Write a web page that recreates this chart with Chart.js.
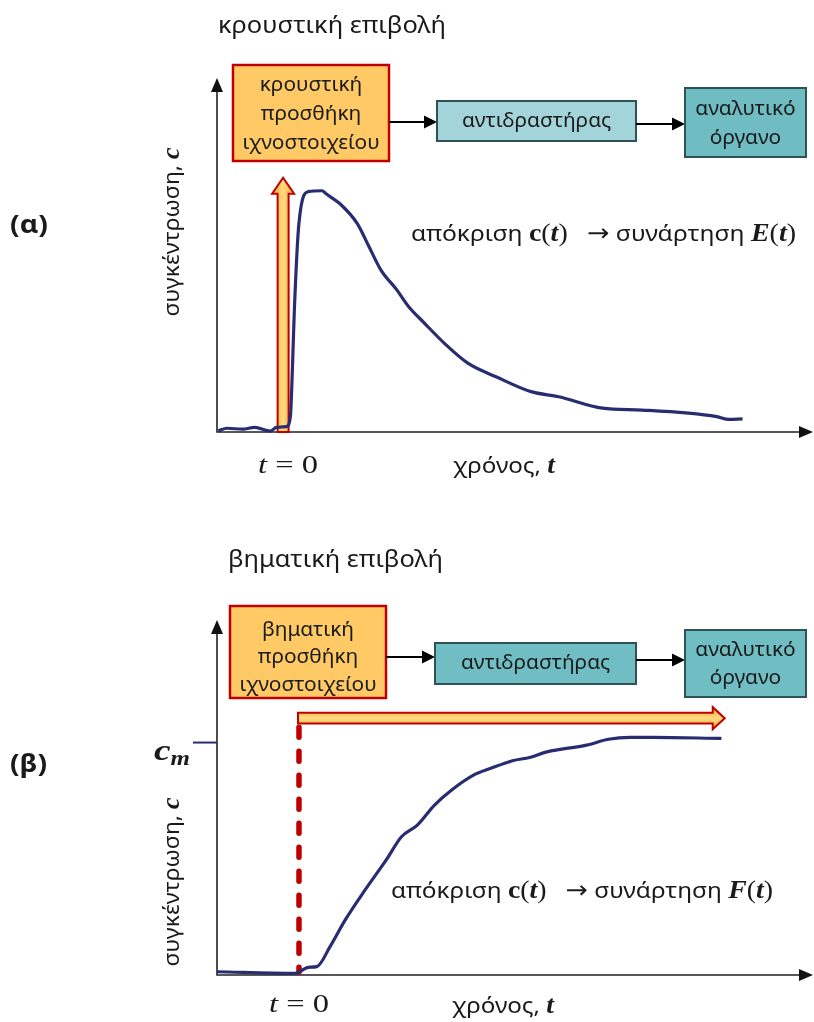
<!DOCTYPE html>
<html>
<head>
<meta charset="utf-8">
<script src="https://cdn.jsdelivr.net/npm/chart.js@4.4.1/dist/chart.umd.min.js"></script>
<style>
  body { margin: 0; background: #fff; }
  #wrap { position: relative; width: 814px; height: 1022px; }
  canvas { position: absolute; left: 0; }
  #chartA { top: 0; }
  #chartB { top: 500px; }
</style>
</head>
<body>
<div id="wrap">
  <canvas id="chartA" width="814" height="500"></canvas>
  <canvas id="chartB" width="814" height="522"></canvas>
</div>
<script>
// ---------------------------
// DATA (time t, concentration c, arbitrary units)
// ---------------------------
// (a) impulse input -> response c(t)
const impulseT = [-0.98, -0.85, -0.61, -0.43, -0.19, -0.10, 0.05, 0.11, 0.14, 0.17, 0.24, 0.38, 0.59, 0.64, 0.88, 1.12, 1.30, 1.48, 1.72, 1.90, 2.14, 2.44, 2.80, 3.22, 3.75, 4.17, 4.83, 5.43, 6.56, 6.74, 6.95];
const impulseC = [0.005, 0.016, 0.012, 0.02, 0.004, 0.02, 0.023, 0.066, 0.266, 0.523, 0.896, 1.03, 1.034, 1.023, 0.973, 0.894, 0.794, 0.694, 0.609, 0.537, 0.466, 0.38, 0.294, 0.237, 0.173, 0.151, 0.102, 0.094, 0.066, 0.054, 0.056];
const impulseTop = 1.09;      // tip of the impulse arrow

// (b) step input -> response c(t)
const stepT = [-1.24, -0.06, 0.14, 0.27, 0.47, 0.70, 1.00, 1.32, 1.55, 1.79, 2.05, 2.31, 2.64, 2.90, 3.23, 3.49, 3.75, 4.35, 4.68, 5.01, 5.34, 6.39];
const stepC = [0.014, 0.007, 0.033, 0.036, 0.122, 0.237, 0.366, 0.495, 0.595, 0.645, 0.731, 0.796, 0.860, 0.889, 0.922, 0.936, 0.960, 0.989, 1.014, 1.022, 1.022, 1.018];
const stepLevel = 1.105;      // level of the step-input arrow
const stepEnd = 6.44;         // where the step-input arrow ends
const cm = 1.0;               // plateau c_m

// texts
const titleA = "κρουστική επιβολή";
const titleB = "βηματική επιβολή";
const injectA = ["κρουστική", "προσθήκη", "ιχνοστοιχείου"];
const injectB = ["βηματική", "προσθήκη", "ιχνοστοιχείου"];
const reactorLabel = ["αντιδραστήρας"];
const detectorLabel = ["αναλυτικό", "όργανο"];

const SANS = '"Noto Sans", "Open Sans", sans-serif';
const SERIF = '"Liberation Serif", "DejaVu Serif", serif';
const NAVY = "#282C70";
const RED = "#C00000";
const INK = "#1a1a1a";

// ---------------------------
// drawing helpers
// ---------------------------
function drawRuns(ctx, runs, x, y, width) {
    ctx.save();
    ctx.textBaseline = "alphabetic";
    ctx.textAlign = "left";
    let total = 0;
    runs.forEach(r => { ctx.font = r.font; r.w = ctx.measureText(r.text).width; total += r.w; });
    const sx = width ? width / total : 1;
    ctx.translate(x, y);
    ctx.scale(sx, 1);
    let cx = 0;
    runs.forEach(r => {
        ctx.font = r.font;
        ctx.fillStyle = r.color || INK;
        ctx.fillText(r.text, cx, r.dy || 0);
        cx += r.w;
    });
    ctx.restore();
}

function head(ctx, x, y, dir, len, half) {
    ctx.beginPath();
    if (dir === "right") {
        ctx.moveTo(x, y); ctx.lineTo(x - len, y - half); ctx.lineTo(x - len, y + half);
    } else {
        ctx.moveTo(x, y); ctx.lineTo(x - half, y + len); ctx.lineTo(x + half, y + len);
    }
    ctx.closePath();
    ctx.fill();
}

function drawAxes(chart) {
    const { ctx, chartArea: a } = chart;
    ctx.save();
    ctx.strokeStyle = "#222";
    ctx.fillStyle = "#111";
    ctx.lineWidth = 1.6;
    ctx.beginPath();
    ctx.moveTo(a.left, a.top + 6);
    ctx.lineTo(a.left, a.bottom);
    ctx.lineTo(a.right - 8, a.bottom);
    ctx.stroke();
    head(ctx, a.left, a.top - 4, "up", 14, 6);
    head(ctx, a.right + 1, a.bottom, "right", 14, 6);
    ctx.restore();
}

function box(ctx, x, y, w, h, fill, stroke, lw, lines, cy0, gap) {
    ctx.save();
    ctx.fillStyle = fill;
    ctx.fillRect(x, y, w, h);
    ctx.strokeStyle = stroke;
    ctx.lineWidth = lw;
    ctx.strokeRect(x, y, w, h);
    ctx.fillStyle = INK;
    ctx.font = "19.5px " + SANS;
    ctx.textAlign = "center";
    ctx.textBaseline = "middle";
    lines.forEach((s, i) => {
        ctx.save();
        ctx.translate(x + w / 2, cy0 + i * gap);
        ctx.scale(1.07, 1);
        ctx.fillText(s, 0, 0, (w - 8) / 1.07);
        ctx.restore();
    });
    ctx.restore();
}

function link(ctx, x1, x2, y) {
    ctx.save();
    ctx.strokeStyle = "#000";
    ctx.fillStyle = "#000";
    ctx.lineWidth = 2.2;
    ctx.beginPath();
    ctx.moveTo(x1, y);
    ctx.lineTo(x2 - 10, y);
    ctx.stroke();
    head(ctx, x2, y, "right", 13, 6.5);
    ctx.restore();
}

function orangeFill(ctx, x0, y0, x1, y1) {
    const g = ctx.createLinearGradient(x0, y0, x1, y1);
    g.addColorStop(0, "#FFBF55");
    g.addColorStop(0.5, "#FFDB86");
    g.addColorStop(1, "#FFBF55");
    return g;
}

function upArrow(ctx, x, yBottom, yTip) {
    const sh = 5.5, hh = 11, hl = 16;
    ctx.save();
    ctx.beginPath();
    ctx.moveTo(x - sh, yBottom);
    ctx.lineTo(x - sh, yTip + hl);
    ctx.lineTo(x - hh, yTip + hl);
    ctx.lineTo(x, yTip);
    ctx.lineTo(x + hh, yTip + hl);
    ctx.lineTo(x + sh, yTip + hl);
    ctx.lineTo(x + sh, yBottom);
    ctx.closePath();
    ctx.fillStyle = orangeFill(ctx, x - sh, 0, x + sh, 0);
    ctx.fill();
    ctx.strokeStyle = RED;
    ctx.lineWidth = 2;
    ctx.stroke();
    ctx.restore();
}

function rightArrow(ctx, xStart, xTip, y) {
    const sh = 5.3, hh = 11, hl = 12;
    ctx.save();
    ctx.beginPath();
    ctx.moveTo(xStart, y - sh);
    ctx.lineTo(xTip - hl, y - sh);
    ctx.lineTo(xTip - hl, y - hh);
    ctx.lineTo(xTip, y);
    ctx.lineTo(xTip - hl, y + hh);
    ctx.lineTo(xTip - hl, y + sh);
    ctx.lineTo(xStart, y + sh);
    ctx.closePath();
    ctx.fillStyle = orangeFill(ctx, 0, y - sh, 0, y + sh);
    ctx.fill();
    ctx.strokeStyle = RED;
    ctx.lineWidth = 2;
    ctx.stroke();
    ctx.restore();
}

function yLabel(ctx, cx, cy) {
    ctx.save();
    ctx.translate(cx, cy);
    ctx.rotate(-Math.PI / 2);
    drawRuns(ctx, [
        { text: "συγκέντρωση, ", font: "22px " + SANS },
        { text: "c", font: "bold italic 25px " + SERIF }
    ], -84.5, 7, 169);
    ctx.restore();
}

function tZero(ctx, x, y) {
    drawRuns(ctx, [
        { text: "t", font: "italic 26px " + SERIF },
        { text: " = 0", font: "26px " + SERIF }
    ], x, y, 60);
}

function timeLabel(ctx, x, y) {
    drawRuns(ctx, [
        { text: "χρόνος, ", font: "22px " + SANS },
        { text: "t", font: "bold italic 25px " + SERIF }
    ], x, y, 102);
}

function response(ctx, fn, x, y, width) {
    const m = "25px " + SERIF;
    const b = "bold 25px " + SERIF;
    const bi = "bold italic 25px " + SERIF;
    drawRuns(ctx, [
        { text: "απόκριση ", font: "22px " + SANS },
        { text: "c", font: b }, { text: "(", font: m }, { text: "t", font: bi }, { text: ")", font: m },
        { text: "   ", font: "22px " + SANS },
        { text: "→", font: '24px "DejaVu Sans", sans-serif' },
        { text: " συνάρτηση ", font: "22px " + SANS },
        { text: fn, font: bi }, { text: "(", font: m }, { text: "t", font: bi }, { text: ")", font: m }
    ], x, y, width);
}

// ---------------------------
// PANEL (a) – impulse
// ---------------------------
const impulsePlugin = {
    id: "impulseDiagram",
    beforeDatasetsDraw(chart) {
        const { ctx, chartArea: a, scales: { x, y } } = chart;
        drawAxes(chart);
        upArrow(ctx, x.getPixelForValue(0), a.bottom, y.getPixelForValue(impulseTop));
    },
    afterDatasetsDraw(chart) {
        const { ctx } = chart;
        drawRuns(ctx, [{ text: titleA, font: "24px " + SANS }], 218, 33, 228);
        drawRuns(ctx, [{ text: "(α)", font: "bold 25px " + SANS }], 10, 233, 38);
        box(ctx, 233, 65, 156, 96, "#FFCA66", RED, 2.5, injectA, 85, 29);
        link(ctx, 389, 437, 122);
        box(ctx, 437, 101, 199, 40, "#A2D4D9", "#2F5257", 2, reactorLabel, 121, 0);
        link(ctx, 636, 685, 124);
        box(ctx, 685, 88, 121, 69, "#6FBCC3", "#2F5257", 2, detectorLabel, 109, 29);
        yLabel(ctx, 172, 232);
        tZero(ctx, 258, 473);
        timeLabel(ctx, 453, 473);
        response(ctx, "E", 411, 241, 385);
    }
};

// ---------------------------
// PANEL (b) – step
// ---------------------------
const stepPlugin = {
    id: "stepDiagram",
    beforeDatasetsDraw(chart) {
        const { ctx, chartArea: a, scales: { x, y } } = chart;
        drawAxes(chart);
        const x0 = x.getPixelForValue(0);
        const yS = y.getPixelForValue(stepLevel);
        // dashed red start line
        ctx.save();
        ctx.strokeStyle = RED;
        ctx.lineWidth = 5.5;
        ctx.lineCap = "round";
        ctx.setLineDash([10, 14]);
        ctx.beginPath();
        ctx.moveTo(x0, yS + 9);
        ctx.lineTo(x0, a.bottom - 3);
        ctx.stroke();
        ctx.restore();
        rightArrow(ctx, x0 - 1, x.getPixelForValue(stepEnd), yS);
        // c_m marker
        const yc = y.getPixelForValue(cm);
        ctx.save();
        ctx.strokeStyle = NAVY;
        ctx.lineWidth = 2;
        ctx.beginPath();
        ctx.moveTo(193, yc);
        ctx.lineTo(a.left, yc);
        ctx.stroke();
        ctx.restore();
    },
    afterDatasetsDraw(chart) {
        const { ctx } = chart;
        drawRuns(ctx, [{ text: titleB, font: "24px " + SANS }], 228, 67, 215);
        drawRuns(ctx, [{ text: "(β)", font: "bold 25px " + SANS }], 10, 272, 37);
        box(ctx, 230, 106, 156, 92, "#FFCA66", RED, 2.5, injectB, 130, 27.5);
        link(ctx, 386, 435, 157);
        box(ctx, 435, 143, 201, 41, "#70BDC4", "#2F5257", 2, reactorLabel, 163, 0);
        link(ctx, 636, 685, 160);
        box(ctx, 685, 130, 121, 67, "#70BDC4", "#2F5257", 2, detectorLabel, 150, 28);
        drawRuns(ctx, [
            { text: "c", font: "bold italic 30px " + SERIF },
            { text: "m", font: "bold italic 20px " + SERIF, dy: 5 }
        ], 154, 260, 36);
        yLabel(ctx, 172, 382);
        tZero(ctx, 269, 512);
        timeLabel(ctx, 452, 513);
        response(ctx, "F", 391, 398, 382);
    }
};

// ---------------------------
// CHART FACTORY
// ---------------------------
function makeChart(id, ts, cs, xMin, xMax, yMax, padding, plugin) {
    return new Chart(document.getElementById(id).getContext("2d"), {
        type: "line",
        data: {
            datasets: [{
                data: ts.map((t, i) => ({ x: t, y: cs[i] })),
                borderColor: NAVY,
                borderWidth: 3.2,
                pointRadius: 0,
                fill: false,
                cubicInterpolationMode: "monotone",
                clip: false
            }]
        },
        options: {
            responsive: false,
            animation: false,
            layout: { padding: padding },
            plugins: { legend: { display: false }, tooltip: { enabled: false } },
            scales: {
                x: { type: "linear", min: xMin, max: xMax, display: false },
                y: { type: "linear", min: 0, max: yMax, display: false }
            }
        },
        plugins: [plugin]
    });
}

makeChart("chartA", impulseT, impulseC, -1, 8, 1.5,
    { left: 217, right: 2, top: 82, bottom: 68 }, impulsePlugin);
makeChart("chartB", stepT, stepC, -1.24, 7.76, 1.51,
    { left: 217, right: 2, top: 124, bottom: 47 }, stepPlugin);
</script>
</body>
</html>
